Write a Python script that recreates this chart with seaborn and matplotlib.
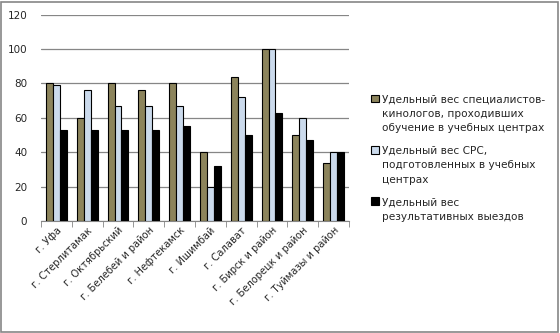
import matplotlib
matplotlib.use("Agg")
import matplotlib.pyplot as plt
import seaborn as sns
import pandas as pd

categories = ["г. Уфа", "г. Стерлитамак", "г. Октябрьский", "г. Белебей и район",
              "г. Нефтекамск", "г. Ишимбай", "г. Салават", "г. Бирск и район",
              "г. Белорецк и район", "г. Туймазы и район"]
series_names = ["Удельный вес специалистов-\nкинологов, проходивших\nобучение в учебных центрах",
                "Удельный вес СРС,\nподготовленных в учебных\nцентрах",
                "Удельный вес\nрезультативных выездов"]
s1 = [80, 60, 80, 76, 80, 40, 84, 100, 50, 34]
s2 = [79, 76, 67, 67, 67, 20, 72, 100, 60, 40]
s3 = [53, 53, 53, 53, 55, 32, 50, 63, 47, 40]
colors = ["#948A54", "#C6D9F1", "#000000"]

rows = []
for name, vals in zip(series_names, [s1, s2, s3]):
    for c, v in zip(categories, vals):
        rows.append({"cat": c, "series": name, "value": v})
df = pd.DataFrame(rows)

sns.set_style("white")
plt.rcParams['font.family'] = ['DejaVu Sans']
fig = plt.figure(figsize=(5.6, 3.33), dpi=100)
ax = fig.add_axes([0.0732, 0.336, 0.55, 0.62])
sns.barplot(data=df, x="cat", y="value", hue="series", palette=colors,
            order=categories, hue_order=series_names, width=0.68,
            edgecolor="black", linewidth=0.8, ax=ax, zorder=3)
ax.set_ylim(0, 120)
ax.set_yticks(range(0, 121, 20))
ax.yaxis.grid(True, color="#868686", linewidth=0.9, zorder=0)
ax.set_axisbelow(True)
ax.set_xlabel("")
ax.set_ylabel("")
for s in ["top", "right", "left"]:
    ax.spines[s].set_visible(False)
ax.spines["bottom"].set_color("#868686")
ax.set_xlim(-0.5, 9.5)
ax.set_xticks([i + 0.5 for i in range(-1, 10)], minor=True)
ax.tick_params(axis="x", which="minor", length=4, color="#868686", bottom=True)
ax.tick_params(axis="x", which="major", length=0, labelsize=7.1, pad=3)
ax.tick_params(axis="y", length=0, labelsize=7.5, pad=10)
plt.setp(ax.get_xticklabels(), rotation=45, ha="right", rotation_mode="anchor")
leg = ax.legend(loc="center left", bbox_to_anchor=(0.646, 0.525),
                bbox_transform=fig.transFigure, frameon=False,
                fontsize=7.6, handlelength=0.75, handleheight=0.75, handletextpad=0.3,
                labelspacing=1.2)
for t in leg.get_texts():
    t.set_linespacing(1.55)
try:
    for col in leg._legend_handle_box.get_children():
        for item in col.get_children():
            item.align = "top"
except Exception:
    pass
border = plt.Rectangle((0.002, 0.003), 0.994, 0.992, transform=fig.transFigure,
                       fill=False, edgecolor="#868686", linewidth=1.2)
fig.patches.append(border)
fig.savefig("out.png", dpi=100)
